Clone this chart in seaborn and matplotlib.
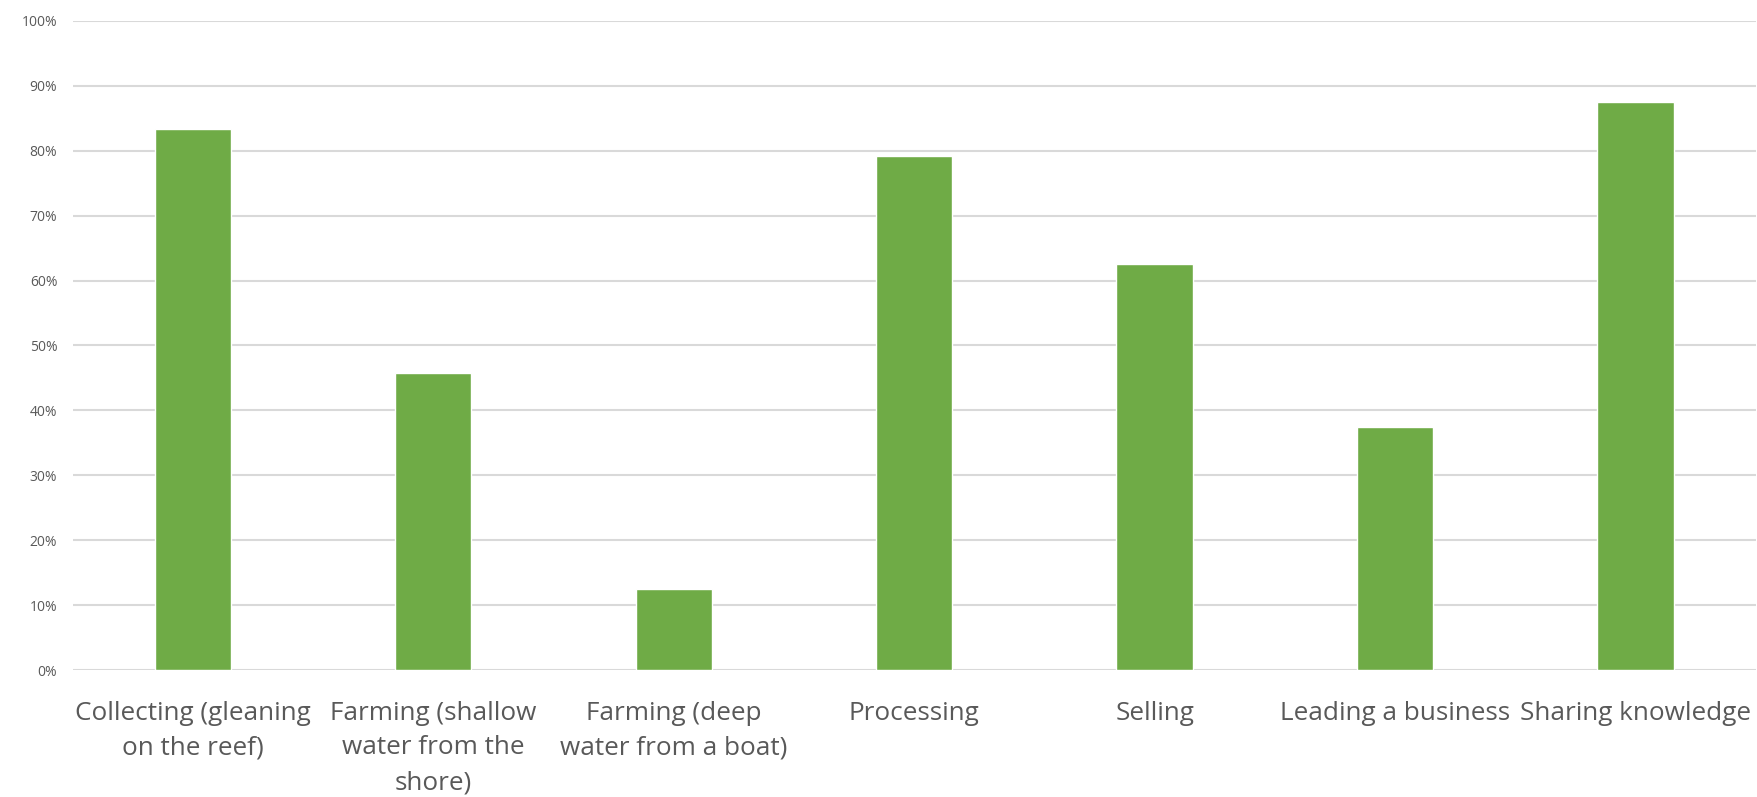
import matplotlib
matplotlib.use("Agg")
import matplotlib.pyplot as plt
from matplotlib.ticker import PercentFormatter, FixedLocator
import seaborn as sns
import pandas as pd

categories = [
    "Collecting (gleaning\non the reef)",
    "Farming (shallow\nwater from the\nshore)",
    "Farming (deep\nwater from a boat)",
    "Processing",
    "Selling",
    "Leading a business",
    "Sharing knowledge",
]
shares = [0.833, 0.458, 0.125, 0.792, 0.625, 0.375, 0.875]
y_ticks = [0.0, 0.1, 0.2, 0.3, 0.4, 0.5, 0.6, 0.7, 0.8, 0.9, 1.0]

df = pd.DataFrame({"activity": categories, "share": shares})

sns.set_theme(style="white")
plt.rcParams["font.family"] = ["Open Sans", "DejaVu Sans"]

text_grey = "#595959"
bar_green = "#6FAB46"
grid_grey = "#D9D9D9"

fig = plt.figure(figsize=(17.58, 7.97), dpi=100)
ax = fig.add_axes([0.0413, 0.1593, 0.9574, 0.8144])

sns.barplot(data=df, x="activity", y="share", color=bar_green,
            width=0.317, saturation=1, ax=ax, zorder=3)

ax.set_ylim(0, 1.0)
ax.yaxis.set_major_locator(FixedLocator(y_ticks))
ax.yaxis.set_major_formatter(PercentFormatter(1.0, decimals=0))
ax.grid(axis="y", color=grid_grey, linewidth=1.5, zorder=0)
ax.set_axisbelow(True)
for s in ax.spines.values():
    s.set_visible(False)

ax.set_xlabel("")
ax.set_ylabel("")
ax.tick_params(axis="y", length=0, pad=11, labelsize=10, labelcolor=text_grey)
ax.tick_params(axis="x", length=0, pad=22, labelsize=18.8, labelcolor=text_grey)
for lbl in ax.get_xticklabels():
    lbl.set_linespacing(1.52)
    lbl.set_verticalalignment("top")

fig.savefig("out.png", dpi=100, facecolor="white")
